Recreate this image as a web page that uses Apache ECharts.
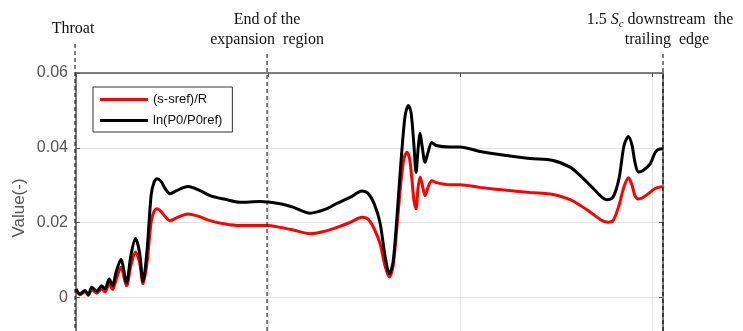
<!DOCTYPE html>
<html><head><meta charset="utf-8">
<script src="https://cdn.jsdelivr.net/npm/echarts@6/dist/echarts.min.js"></script>
<style>html,body{margin:0;padding:0;background:#fff;overflow:hidden;width:743px;height:331px}#c{width:743px;height:400px}</style>
</head><body><div id="c"></div>
<script>
// Position along the passage (arbitrary units, throat = 0)
const xEntropy = [0,0.021,0.047,0.064,0.082,0.108,0.134,0.151,0.173,0.191,0.208,0.234,0.263,0.286,0.310,0.331,0.349,0.370,0.391,0.406,0.423,0.443,0.464,0.490,0.526,0.583,0.635,0.698,0.776,0.854,0.995,1.063,1.130,1.219,1.297,1.359,1.427,1.490,1.521,1.552,1.583,1.609,1.632,1.651,1.672,1.693,1.708,1.723,1.737,1.750,1.760,1.771,1.781,1.792,1.802,1.818,1.833,1.853,1.875,1.948,2.000,2.104,2.243,2.365,2.484,2.573,2.625,2.688,2.740,2.772,2.797,2.828,2.854,2.877,2.896,2.911,2.929,2.953,2.990,3.016,3.042,3.057];
const yEntropy = [0.0018,0.0007,0.0015,0.0005,0.0021,0.0011,0.0023,0.0014,0.0037,0.0021,0.0045,0.0080,0.0031,0.0085,0.0121,0.0093,0.0036,0.0093,0.0200,0.0229,0.0237,0.0229,0.0216,0.0205,0.0213,0.0223,0.0217,0.0205,0.0196,0.0192,0.0192,0.0187,0.0180,0.0170,0.0177,0.0187,0.0200,0.0214,0.0209,0.0184,0.0144,0.0085,0.0054,0.0082,0.0192,0.0312,0.0371,0.0388,0.0371,0.0312,0.0259,0.0237,0.0291,0.0322,0.0304,0.0272,0.0294,0.0312,0.0307,0.0301,0.0301,0.0294,0.0286,0.0280,0.0275,0.0261,0.0246,0.0224,0.0205,0.0201,0.0205,0.0246,0.0296,0.0320,0.0299,0.0272,0.0263,0.0267,0.0281,0.0291,0.0295,0.0296];
const xPressure = [0,0.021,0.047,0.064,0.082,0.108,0.134,0.151,0.173,0.191,0.208,0.234,0.263,0.286,0.310,0.331,0.349,0.370,0.391,0.406,0.423,0.443,0.464,0.490,0.526,0.583,0.635,0.698,0.776,0.854,0.958,1.063,1.130,1.219,1.297,1.359,1.427,1.490,1.521,1.552,1.583,1.609,1.632,1.651,1.672,1.693,1.714,1.731,1.745,1.760,1.771,1.781,1.792,1.802,1.818,1.833,1.853,1.875,1.948,2.000,2.104,2.243,2.365,2.484,2.573,2.625,2.688,2.740,2.764,2.797,2.828,2.854,2.877,2.896,2.911,2.929,2.953,2.990,3.016,3.031,3.057];
const yPressure = [0.00225,0.0009,0.0018,0.0007,0.0027,0.0016,0.0031,0.0022,0.0049,0.0031,0.0066,0.0101,0.0039,0.0112,0.0157,0.0120,0.0042,0.0125,0.0272,0.0307,0.0317,0.0310,0.0291,0.0277,0.0286,0.0296,0.0288,0.0272,0.0262,0.0254,0.0256,0.0250,0.0241,0.0225,0.0235,0.0251,0.0267,0.0284,0.0278,0.0251,0.0200,0.0112,0.0063,0.0093,0.0219,0.0366,0.0486,0.0513,0.0494,0.0406,0.0334,0.0393,0.0438,0.0406,0.0361,0.0387,0.0414,0.0406,0.0402,0.0402,0.0390,0.0379,0.0371,0.0366,0.0348,0.0326,0.0294,0.0267,0.0261,0.0268,0.0318,0.0406,0.0430,0.0406,0.0361,0.0335,0.0339,0.0357,0.0387,0.0395,0.0397];
const seriesNames = ['(s-sref)/R', 'ln(P0/P0ref)'];
const yTicks = [-0.02, 0, 0.02, 0.04, 0.06];
const xMax = 3.057;
const markerX = [0, 0.995, 3.057];

const pairs = (xs, ys) => xs.map((x, i) => [x, ys[i]]);
const chart = echarts.init(document.getElementById('c'));
const axisCol = '#555';
chart.setOption({
  animation: false,
  backgroundColor: '#fff',
  grid: { left: 76, top: 73, width: 587, height: 299 },
  legend: {
    left: 93, top: 87, orient: 'vertical', icon: 'rect', itemWidth: 48, itemHeight: 3,
    itemGap: 8, padding: [6, 10, 5, 7], borderColor: '#333', borderWidth: 1, backgroundColor: '#fff',
    textStyle: { fontFamily: 'Liberation Sans, Arial', fontSize: 13, color: '#111' },
    data: seriesNames
  },
  xAxis: [
    { type: 'value', min: 0, max: xMax, interval: 1, position: 'bottom',
      axisLine: { show: true, onZero: false, lineStyle: { color: axisCol, width: 1.5 } },
      axisTick: { show: true, inside: true, length: 4, lineStyle: { color: axisCol } },
      axisLabel: { show: false },
      splitLine: { show: true, lineStyle: { color: '#e2e2e2', width: 1 } } },
    { type: 'value', min: 0, max: xMax, interval: 1, position: 'top',
      axisLine: { show: true, onZero: false, lineStyle: { color: axisCol, width: 1.5 } },
      axisTick: { show: true, inside: true, length: 4, lineStyle: { color: axisCol } },
      axisLabel: { show: false }, splitLine: { show: false } }
  ],
  yAxis: [
    { type: 'value', min: yTicks[0], max: yTicks[yTicks.length - 1], interval: 0.02, position: 'left',
      axisLine: { show: true, onZero: false, lineStyle: { color: axisCol, width: 1.5 } },
      axisTick: { show: true, inside: true, length: 4, lineStyle: { color: axisCol } },
      axisLabel: { fontFamily: 'Liberation Sans, Arial', fontSize: 16, color: '#555', margin: 8 },
      splitLine: { show: true, lineStyle: { color: '#e2e2e2', width: 1 } } },
    { type: 'value', min: yTicks[0], max: yTicks[yTicks.length - 1], interval: 0.02, position: 'right',
      axisLine: { show: true, onZero: false, lineStyle: { color: axisCol, width: 1.5 } },
      axisTick: { show: true, inside: true, length: 4, lineStyle: { color: axisCol } },
      axisLabel: { show: false }, splitLine: { show: false } }
  ],
  series: [
    { name: seriesNames[0], type: 'line', data: pairs(xEntropy, yEntropy), showSymbol: false,
      smooth: 0.3, color: '#ff0000', lineStyle: { width: 3, color: '#ff0000' }, z: 3 },
    { name: seriesNames[1], type: 'line', data: pairs(xPressure, yPressure), showSymbol: false,
      smooth: 0.3, color: '#000', lineStyle: { width: 3, color: '#000' }, z: 4 }
  ]
});

const px = markerX.map(v => chart.convertToPixel({ xAxisIndex: 0 }, v));
const serif = 'Liberation Serif, Times New Roman, serif';
const dash = (x, y0) => ({ type: 'line', z: 10, shape: { x1: x, y1: y0, x2: x, y2: 400 },
  style: { stroke: '#000', lineWidth: 1, lineDash: [4, 3] } });
chart.setOption({
  graphic: [
    dash(px[0] - 1, 44), dash(px[1], 54), dash(px[2], 54),
    { type: 'text', z: 10, x: px[0] - 3, y: 29, style: { text: 'Throat', font: '16px ' + serif, fill: '#111', align: 'center', verticalAlign: 'middle' } },
    { type: 'text', z: 10, x: px[1], y: 20, style: { text: 'End of the', font: '16px ' + serif, fill: '#111', align: 'center', verticalAlign: 'middle' } },
    { type: 'text', z: 10, x: px[1], y: 40, style: { text: 'expansion  region', font: '16px ' + serif, fill: '#111', align: 'center', verticalAlign: 'middle' } },
    { type: 'text', z: 10, x: px[2] - 3, y: 20, style: { text: '1.5 {it|S}{sub|c} downstream  the', font: '16px ' + serif, fill: '#111', align: 'center', verticalAlign: 'middle',
      rich: { it: { fontFamily: serif, fontStyle: 'italic', fontSize: 16, fill: '#111' }, sub: { fontFamily: serif, fontStyle: 'italic', fontSize: 11, fill: '#111', padding: [8, 0, 0, 0] } } } },
    { type: 'text', z: 10, x: px[2] + 4, y: 40, style: { text: 'trailing  edge', font: '16px ' + serif, fill: '#111', align: 'center', verticalAlign: 'middle' } },
    { type: 'text', z: 10, x: 19, y: 208, rotation: Math.PI / 2, style: { text: 'Value(-)', font: '17px Liberation Sans, Arial', fill: '#555', align: 'center', verticalAlign: 'middle' } }
  ]
});
</script></body></html>
